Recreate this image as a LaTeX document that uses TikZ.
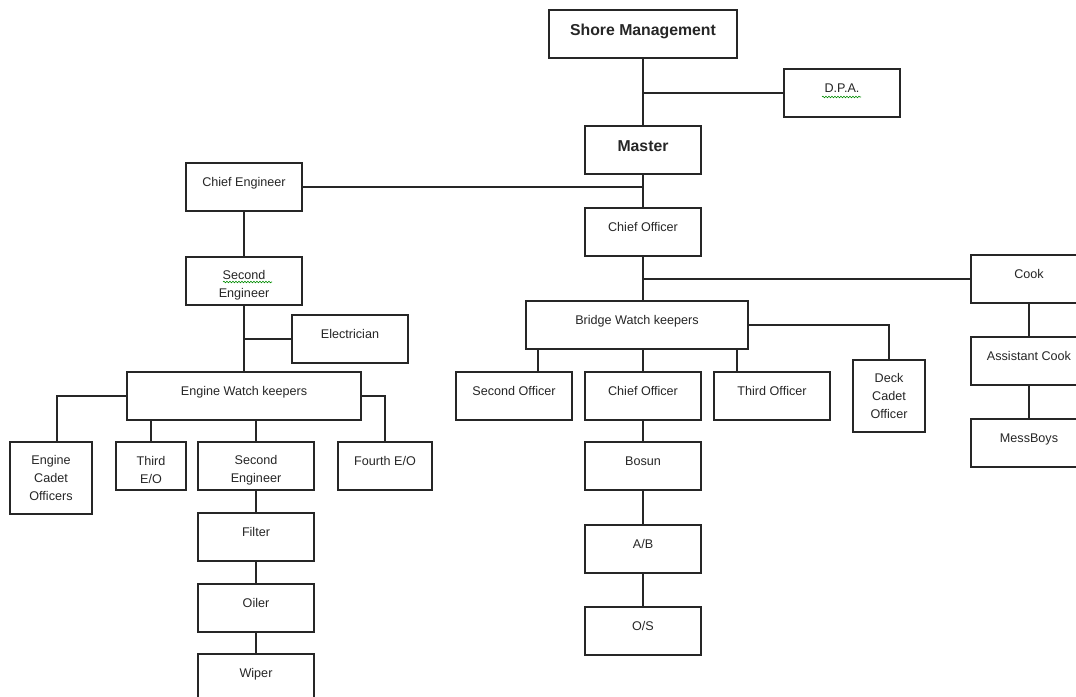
\documentclass[tikz,border=0pt]{standalone}
\usepackage{fontspec}
\setmainfont{Liberation Sans}
\usetikzlibrary{decorations.pathmorphing}
\newcommand\pushdn{\rule{0pt}{17pt}}
\begin{document}
\begin{tikzpicture}[x=1pt,y=-1pt,
  base/.style={draw=black!85, line width=1.8pt, inner sep=0pt, minimum width=116pt, minimum height=48pt,
    font=\fontsize{12.6}{18}\selectfont, text=black!85},
  box/.style={base, text height=10pt, text depth=11.4pt},
  bigbox/.style={base, font=\fontsize{15.8}{19}\selectfont\bfseries, text height=14pt, text depth=10.6pt},
  mbox/.style={base, align=center},
  conn/.style={line width=1.8pt, draw=black!85},
  squig/.style={draw=green!55!black, line width=0.6pt, decorate, decoration={snake, amplitude=0.8pt, segment length=3pt}}]
\clip (0,0) rectangle (1076,696);
\fill[white] (0,0) rectangle (1076,696);
% nodes
\node[bigbox, minimum width=188pt] (shore) at (643,34) {Shore Management};
\node[box] (dpa) at (842,93) {D.P.A.};
\node[bigbox] (master) at (643,150) {Master};
\node[box] (ce) at (244,187) {Chief Engineer};
\node[box] (co1) at (643,232) {Chief Officer};
\node[box] (cook) at (1029,279) {Cook};
\node[mbox] (se1) at (244,281) {\pushdn Second\\Engineer};
\node[box] (elec) at (350,339) {Electrician};
\node[box] (acook) at (1029,361) {Assistant Cook};
\node[box, minimum width=222pt] (bwk) at (637,325) {Bridge Watch keepers};
\node[box, minimum width=234pt] (ewk) at (244,396) {Engine Watch keepers};
\node[box] (so) at (514,396) {Second Officer};
\node[box] (co2) at (643,396) {Chief Officer};
\node[box] (to) at (772,396) {Third Officer};
\node[mbox, minimum width=72pt, minimum height=72pt] (dco) at (889,396) {Deck\\Cadet\\Officer};
\node[box] (mess) at (1029,443) {MessBoys};
\node[mbox, minimum width=82pt, minimum height=72pt] (eco) at (51,478) {Engine\\Cadet\\Officers};
\node[mbox, minimum width=70pt] (teo) at (151,466) {\pushdn Third\\E/O};
\node[mbox] (se2) at (256,466) {\pushdn Second\\Engineer};
\node[box, minimum width=94pt] (feo) at (385,466) {Fourth E/O};
\node[box] (bosun) at (643,466) {Bosun};
\node[box] (filter) at (256,537) {Filter};
\node[box] (ab) at (643,549) {A/B};
\node[box] (oiler) at (256,608) {Oiler};
\node[box] (os) at (643,631) {O/S};
\node[box] (wiper) at (256,678) {Wiper};
% spell-check marks
\draw[squig] ([shift={(-20,4)}]dpa.center) -- ([shift={(19,4)}]dpa.center);
\draw[squig] ([shift={(-21,1)}]se1.center) -- ([shift={(28,1)}]se1.center);
% connectors
\draw[conn] (shore.south) -- (master.north);
\draw[conn] (dpa.west) -- (dpa.west -| shore.south);
\draw[conn] (master.south) -- (co1.north);
\draw[conn] (ce.east) -- (ce.east -| master.south);
\draw[conn] (co1.south) -- (co1.south |- bwk.north);
\draw[conn] (cook.west) -- (cook.west -| co1.south);
\draw[conn] ([xshift=24pt]so.north) -- ([xshift=24pt]so.north |- bwk.south);
\draw[conn] (co2.north) -- (co2.north |- bwk.south);
\draw[conn] ([xshift=-35pt]to.north) -- ([xshift=-35pt]to.north |- bwk.south);
\draw[conn] (bwk.east) -| (dco.north);
\draw[conn] (co2.south) -- (bosun.north);
\draw[conn] (bosun.south) -- (ab.north);
\draw[conn] (ab.south) -- (os.north);
\draw[conn] (cook.south) -- (acook.north);
\draw[conn] (acook.south) -- (mess.north);
\draw[conn] (ce.south) -- (se1.north);
\draw[conn] (se1.south) -- (se1.south |- ewk.north);
\draw[conn] (elec.west) -- (elec.west -| se1.south);
\draw[conn] (ewk.west) -| ([xshift=6pt]eco.north);
\draw[conn] (teo.north) -- (teo.north |- ewk.south);
\draw[conn] (se2.north) -- (se2.north |- ewk.south);
\draw[conn] (ewk.east) -| (feo.north);
\draw[conn] (se2.south) -- (filter.north);
\draw[conn] (filter.south) -- (oiler.north);
\draw[conn] (oiler.south) -- (wiper.north);
\end{tikzpicture}
\end{document}
